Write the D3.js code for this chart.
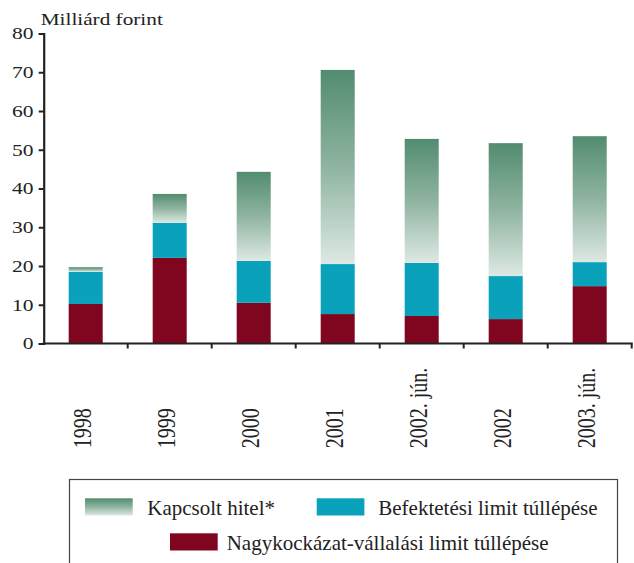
<!DOCTYPE html>
<html>
<head>
<meta charset="utf-8">
<script src="https://cdn.jsdelivr.net/npm/d3@7"></script>
<style>
  html, body { margin: 0; padding: 0; background: #fff; }
  svg { display: block; }
</style>
</head>
<body>
<svg id="chart" width="634" height="563"></svg>
<script>
// Categories (periods)
const categories = ["1998", "1999", "2000", "2001", "2002. jún.", "2002", "2003. jún."];
// Stacked components, billion HUF
const nagykockazat = [10.2, 22.1, 10.5, 7.6, 7.1, 6.3, 14.8];
const befektetesi  = [8.3, 9.0, 10.8, 12.9, 13.7, 11.1, 6.2];
const kapcsolt     = [1.2, 7.5, 23.0, 50.1, 32.0, 34.3, 32.5];
const yTicks = [0, 10, 20, 30, 40, 50, 60, 70, 80];
const seriesNames = ["Nagykockázat-vállalási limit túllépése", "Befektetési limit túllépése", "Kapcsolt hitel*"];

const FONT = "Liberation Serif";
const INK = "#222";

const svg = d3.select("#chart");
const defs = svg.append("defs");
const grad = defs.append("linearGradient")
  .attr("id", "greenGrad").attr("x1", 0).attr("y1", 0).attr("x2", 0).attr("y2", 1);
grad.append("stop").attr("offset", "0%").attr("stop-color", "#528c6f");
grad.append("stop").attr("offset", "50%").attr("stop-color", "#8fb4a1");
grad.append("stop").attr("offset", "100%").attr("stop-color", "#dde9e3");

const colors = ["#800620", "#0aa1bb", "url(#greenGrad)"];

const mLeft = 43.7, mRight = 631.7, mTop = 33.5, mBottom = 343.5;
const x = d3.scaleBand().domain(categories).range([mLeft, mRight])
  .paddingInner(0.595).paddingOuter(0.2975);
const y = d3.scaleLinear().domain([0, 80]).range([mBottom, mTop]);

const rows = categories.map((c, i) => ({ cat: c, a: nagykockazat[i], b: befektetesi[i], c: kapcsolt[i] }));
const layers = d3.stack().keys(["a", "b", "c"])(rows);

svg.append("g").selectAll("g").data(layers).join("g")
  .attr("fill", (d, i) => colors[i])
  .selectAll("rect").data(d => d).join("rect")
  .attr("x", d => x(d.data.cat))
  .attr("width", x.bandwidth())
  .attr("y", d => y(d[1]))
  .attr("height", d => y(d[0]) - y(d[1]));

// Y axis (labels drawn separately with a slightly widened face)
const yAxis = svg.append("g").attr("transform", `translate(${mLeft},0)`)
  .call(d3.axisLeft(y).tickValues(yTicks).tickSize(5).tickFormat(""));
yAxis.select(".domain").attr("stroke", INK).attr("stroke-width", 2.2);
yAxis.selectAll(".tick line").attr("stroke", INK).attr("stroke-width", 2);

svg.append("g").selectAll("text").data(yTicks).join("text")
  .attr("transform", d => `translate(33.5,${y(d)}) scale(1.23,1)`)
  .attr("text-anchor", "end")
  .attr("dy", "0.33em")
  .attr("font-size", 17.5)
  .attr("fill", INK)
  .style("font-family", FONT)
  .text(d => d);

// X axis: ticks at band boundaries
const bounds = categories.map(c => x(c) - x.step() * x.paddingInner() / 2).concat([mRight]);
const xAxis = svg.append("g");
xAxis.append("line").attr("x1", mLeft - 1).attr("x2", mRight + 1)
  .attr("y1", mBottom).attr("y2", mBottom).attr("stroke", INK).attr("stroke-width", 2.2);
xAxis.selectAll("line.t").data(bounds.slice(1)).join("line")
  .attr("class", "t")
  .attr("x1", d => d).attr("x2", d => d)
  .attr("y1", mBottom).attr("y2", mBottom + 5)
  .attr("stroke", INK).attr("stroke-width", 2);

xAxis.selectAll("text").data(categories).join("text")
  .attr("transform", d => `translate(${x(d) + x.bandwidth() / 2 + 5.7},448.3) scale(1.25,1) rotate(-90)`)
  .attr("text-anchor", "start")
  .attr("font-size", 20)
  .attr("fill", INK)
  .style("font-family", FONT)
  .text(d => d);

// Unit label
svg.append("text")
  .attr("transform", "translate(40.7,25) scale(1.2,1)")
  .attr("font-size", 17.7)
  .attr("fill", INK)
  .style("font-family", FONT)
  .text("Milliárd forint");

// Legend
const lg = svg.append("g");
lg.append("rect").attr("x", 69.5).attr("y", 479.5).attr("width", 548).attr("height", 100)
  .attr("fill", "none").attr("stroke", "#444").attr("stroke-width", 1.2);
const items = [
  { name: seriesNames[2], fill: colors[2], sx: 85, sy: 498.3, tx: 147.3, ty: 515 },
  { name: seriesNames[1], fill: colors[1], sx: 316.7, sy: 498.3, tx: 378.3, ty: 515 },
  { name: seriesNames[0], fill: colors[0], sx: 170, sy: 533.3, tx: 226.7, ty: 550 }
];
items.forEach(it => {
  lg.append("rect").attr("x", it.sx).attr("y", it.sy).attr("width", 47.7).attr("height", 17.2).attr("fill", it.fill);
  lg.append("text").attr("x", it.tx).attr("y", it.ty).attr("font-size", 21)
    .attr("fill", INK).style("font-family", FONT).text(it.name);
});
</script>
</body>
</html>
